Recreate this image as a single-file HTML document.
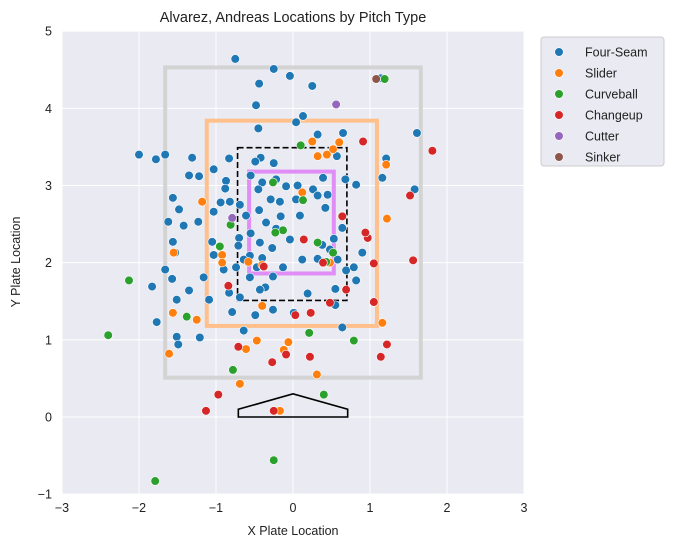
<!DOCTYPE html>
<html><head><meta charset="utf-8"><style>
body{margin:0;background:#fff;}
svg{display:block;font-family:"Liberation Sans","DejaVu Sans",sans-serif;}
</style></head><body>
<svg id="chart" width="674" height="548" viewBox="0 0 674 548">
<text x="293" y="22" text-anchor="middle" font-size="14.5" fill="#222">Alvarez, Andreas Locations by Pitch Type</text>
<rect x="62" y="31" width="462" height="463" fill="#eaeaf2"/>
<g id="grid"></g><g id="zones"></g><g id="points"></g><g id="ticks"></g>
<text x="293" y="535" text-anchor="middle" font-size="12.5" fill="#222">X Plate Location</text>
<text transform="translate(20,262) rotate(-90)" text-anchor="middle" font-size="12.5" fill="#222">Y Plate Location</text>
<g id="legend"></g>
</svg>
<script>
const xTicks=[-3,-2,-1,0,1,2,3];
const yTicks=[-1,0,1,2,3,4,5];
const seriesNames=["Four-Seam","Slider","Curveball","Changeup","Cutter","Sinker"];
const seriesColors=["#1f77b4","#ff7f0e","#2ca02c","#d62728","#9467bd","#8c564b"];
const fourSeamX=[-0.75,-0.25,-0.04,-0.44,0.25,-0.48,0.13,0.04,-2.0,-1.78,-1.66,0.65,-0.83,-0.42,-0.45,-1.31,0.32,0.57,-1.03,-0.49,-0.25,-0.55,-0.87,-0.40,-0.22,-0.88,-1.22,-1.35,-1.56,-1.48,-1.62,-1.56,-1.42,-1.23,-0.94,-0.82,-0.69,-0.45,-0.29,-0.17,-0.09,0.06,0.26,-0.16,-0.35,-0.44,-0.61,-0.79,-1.03,-0.55,-0.22,-0.70,-1.05,-1.03,-0.71,-0.56,-0.40,-0.74,-0.90,-1.16,-1.35,-1.53,-1.57,-1.51,-1.09,-0.83,-0.69,-0.36,-0.47,0.09,0.04,0.32,0.42,0.14,0.38,0.48,0.58,0.69,0.55,0.79,0.90,0.82,0.82,0.68,1.16,1.21,1.61,1.58,1.14,0.64,0.53,-0.04,-0.13,0.12,0.32,-0.64,-0.43,-0.49,-0.79,-1.21,-1.51,-1.49,-0.64,0.55,0.64,-0.26,0.01,0.19,-1.77,-1.83,-1.66,-0.43,-0.27,-0.26,-0.56,0.39,0.45];
const fourSeamY=[4.64,4.51,4.42,4.32,4.29,4.04,3.90,3.82,3.40,3.34,3.40,3.68,3.35,3.36,3.74,3.36,3.66,3.38,3.21,3.31,3.29,3.13,3.06,3.04,3.08,2.96,3.12,3.13,2.84,2.69,2.53,2.27,2.48,2.53,2.78,2.79,2.75,2.95,2.82,2.79,2.99,3.0,2.95,2.60,2.52,2.68,2.61,2.57,2.66,2.38,2.44,2.32,2.27,2.10,2.22,2.09,2.06,1.94,1.91,1.81,1.64,2.13,1.79,1.52,1.52,1.61,1.55,1.68,1.94,2.61,2.82,2.87,2.71,2.30,2.23,2.17,2.04,1.90,1.66,1.94,2.13,1.77,3.01,3.08,3.10,3.35,3.68,2.95,4.39,2.45,2.31,2.30,1.94,2.04,2.05,2.04,1.65,1.32,1.36,1.03,1.04,0.94,1.12,1.45,1.16,1.39,1.35,1.60,1.23,1.69,1.91,2.26,2.19,1.82,1.81,3.10,2.88];
const sliderX=[0.25,0.60,0.32,0.52,0.44,1.21,1.22,0.12,-1.18,-1.55,-0.92,-0.92,-0.58,-0.40,-1.56,-1.25,-0.40,-0.61,-0.47,-0.06,-0.12,-0.69,-1.61,-0.17,0.31,1.16,0.48];
const sliderY=[3.57,3.56,3.38,3.47,3.40,3.27,2.57,2.91,2.79,2.13,2.10,2.0,2.01,1.97,1.35,1.26,1.44,0.88,0.99,0.97,0.87,0.43,0.82,0.08,0.55,1.22,2.0];
const curveX=[-0.26,0.10,1.19,-0.81,-0.95,-0.13,-0.23,0.43,0.52,-2.13,-2.40,-1.38,-0.78,0.21,0.79,0.40,-0.25,-1.79,0.13,0.32];
const curveY=[3.04,3.52,4.38,2.49,2.21,2.42,2.39,2.01,2.13,1.77,1.06,1.30,0.61,1.09,0.99,0.29,-0.56,-0.83,2.81,2.26];
const changeX=[0.91,1.81,1.52,0.64,0.14,0.39,-0.38,-0.84,0.69,1.05,1.56,0.97,0.94,1.05,0.23,0.03,0.48,-0.71,-0.09,-0.27,0.22,1.22,1.14,-0.97,-1.13,-0.25];
const changeY=[3.57,3.45,2.87,2.60,2.30,2.0,1.95,1.70,1.65,1.99,2.03,2.32,2.39,1.49,1.35,1.32,1.48,0.91,0.81,0.71,0.78,0.94,0.78,0.29,0.08,0.08];
const cutterX=[0.56,-0.79];
const cutterY=[4.05,2.58];
const sinkerX=[1.08];
const sinkerY=[4.38];
const NS="http://www.w3.org/2000/svg";
const xs=v=>293+v*77, ys=v=>417-v*77.17;
function mk(tag,attrs,parent){const e=document.createElementNS(NS,tag);for(const k in attrs)e.setAttribute(k,attrs[k]);parent.appendChild(e);return e;}
const grid=document.getElementById('grid'),ticks=document.getElementById('ticks');
xTicks.forEach(t=>{const l=mk('line',{x1:xs(t),x2:xs(t),y1:31,y2:494,stroke:'#fff','stroke-width':1},grid);


const tx=mk('text',{x:xs(t),y:512,'text-anchor':'middle','font-size':12.5,fill:'#222'},ticks);tx.textContent=t<0?'\u2212'+(-t):t;

});
yTicks.forEach(t=>{const l=mk('line',{x1:62,x2:524,y1:ys(t),y2:ys(t),stroke:'#fff','stroke-width':1},grid);


const tx=mk('text',{x:52,y:ys(t)+4.5,'text-anchor':'end','font-size':12.5,fill:'#222'},ticks);tx.textContent=t<0?'\u2212'+(-t):t;

});
const zones=document.getElementById('zones');
function rect(x0,x1,y0,y1,st,w,dash,name){const r=mk('rect',{x:xs(x0),y:ys(y1),width:xs(x1)-xs(x0),height:ys(y0)-ys(y1),fill:'none',stroke:st,'stroke-width':w},zones);if(dash)r.setAttribute('stroke-dasharray',dash);

}
rect(-1.66,1.66,0.51,4.53,'#d3d3d3',4,null,'outer-zone');
rect(-1.12,1.09,1.18,3.84,'#ffc08c',4,null,'shadow-zone');
rect(-0.72,0.70,1.51,3.49,'#000',1.6,'6,3','strike-zone');
rect(-0.57,0.53,1.86,3.18,'#e08ef5',4,null,'heart-zone');
const plate=mk('polygon',{points:[[-0.71,0],[0.71,0],[0.71,0.1],[0,0.3],[-0.71,0.1]].map(p=>xs(p[0])+','+ys(p[1])).join(' '),fill:'none',stroke:'#000','stroke-width':1.6},zones);


const pts=document.getElementById('points');
const sets=[[fourSeamX,fourSeamY],[sliderX,sliderY],[curveX,curveY],[changeX,changeY],[cutterX,cutterY],[sinkerX,sinkerY]];
sets.forEach((s,i)=>{s[0].forEach((x,j)=>{const c=mk('circle',{cx:xs(x),cy:ys(s[1][j]),r:4.3,fill:seriesColors[i],stroke:'#fff','stroke-width':0.6},pts);

});});
const lg=document.getElementById('legend');
const box=mk('rect',{x:541,y:37,width:123,height:129,fill:'#eaeaf2',stroke:'#ccc','stroke-width':1,rx:3},lg);


seriesNames.forEach((n,i)=>{const y=52+i*21;
const c=mk('circle',{cx:559,cy:y,r:4.3,fill:seriesColors[i],stroke:'#fff','stroke-width':0.6},lg);


const t=mk('text',{x:585,y:y+4.5,'font-size':12.5,fill:'#222'},lg);t.textContent=n;

});
</script>
</body></html>
